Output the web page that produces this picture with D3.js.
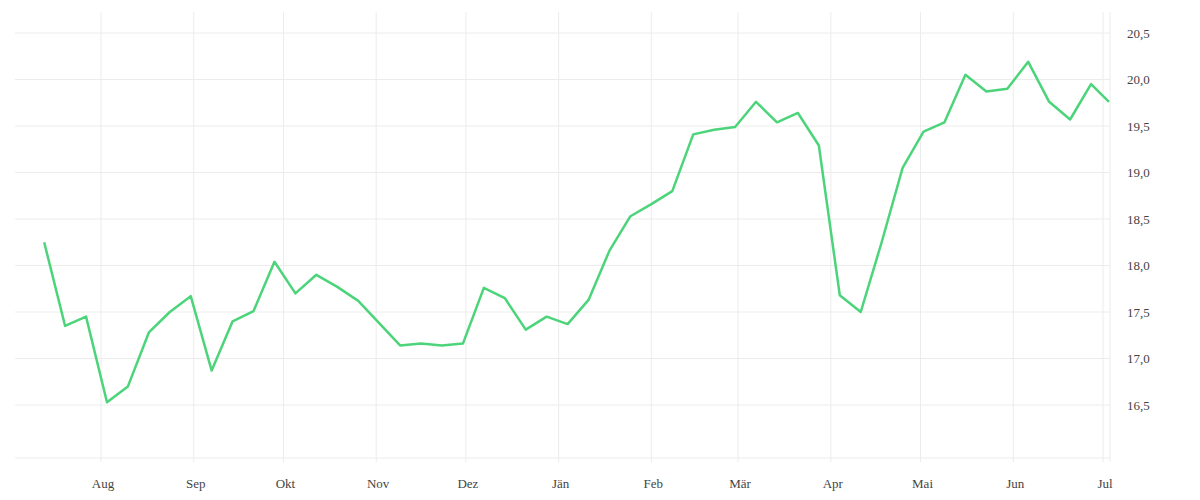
<!DOCTYPE html>
<html>
<head>
<meta charset="utf-8">
<script src="https://cdn.jsdelivr.net/npm/d3@7"></script>
<style>
  body { margin: 0; background: #fff; }
  text { font-family: "Liberation Serif", "DejaVu Serif", serif; font-size: 13px; fill: #444; }
</style>
</head>
<body>
<svg id="chart" width="1200" height="500"></svg>
<script>
// weekly values
const dates = [
  '2023-07-13','2023-07-20','2023-07-27','2023-08-03','2023-08-10','2023-08-17','2023-08-24','2023-08-31',
  '2023-09-07','2023-09-14','2023-09-21','2023-09-28','2023-10-05','2023-10-12','2023-10-19','2023-10-26',
  '2023-11-02','2023-11-09','2023-11-16','2023-11-23','2023-11-30','2023-12-07','2023-12-14','2023-12-21',
  '2023-12-28','2024-01-04','2024-01-11','2024-01-18','2024-01-25','2024-02-01','2024-02-08','2024-02-15',
  '2024-02-22','2024-02-29','2024-03-07','2024-03-14','2024-03-21','2024-03-28','2024-04-04','2024-04-11',
  '2024-04-18','2024-04-25','2024-05-02','2024-05-09','2024-05-16','2024-05-23','2024-05-30','2024-06-06',
  '2024-06-13','2024-06-20','2024-06-27','2024-07-03'
];
const values = [
  18.25, 17.35, 17.45, 16.53, 16.70, 17.28, 17.50, 17.67,
  16.87, 17.40, 17.51, 18.04, 17.70, 17.90, 17.77, 17.62,
  17.38, 17.14, 17.16, 17.14, 17.16, 17.76, 17.65, 17.31,
  17.45, 17.37, 17.63, 18.16, 18.53, 18.66, 18.80, 19.41,
  19.46, 19.49, 19.76, 19.54, 19.64, 19.29, 17.68, 17.50,
  18.25, 19.05, 19.44, 19.54, 20.05, 19.87, 19.90, 20.19,
  19.76, 19.57, 19.95, 19.76
];
const monthLabels = ['Aug','Sep','Okt','Nov','Dez','Jän','Feb','Mär','Apr','Mai','Jun','Jul'];
const monthTicks = ['2023-08-01','2023-09-01','2023-10-01','2023-11-01','2023-12-01','2024-01-01',
  '2024-02-01','2024-03-01','2024-04-01','2024-05-01','2024-06-01','2024-07-01'];
const yTicks = [16.5, 17.0, 17.5, 18.0, 18.5, 19.0, 19.5, 20.0, 20.5];

const parse = d3.timeParse('%Y-%m-%d');
const data = dates.map((d, i) => ({ date: parse(d), value: values[i] }));
const tickDates = monthTicks.map(parse);

const svg = d3.select('#chart');
const plotLeft = 15, plotRight = 1110, plotTop = 12, plotBottom = 462;

const x = d3.scaleTime()
  .domain([parse('2023-08-01'), parse('2024-07-01')])
  .range([101, 1103]);
const y = d3.scaleLinear().domain([16.5, 20.5]).range([405, 33]);

// grid
svg.append('g').selectAll('line').data(yTicks.concat([15.93])).join('line')
  .attr('x1', plotLeft).attr('x2', plotRight)
  .attr('y1', d => y(d)).attr('y2', d => y(d))
  .attr('stroke', '#ececec');
svg.append('g').selectAll('line').data(tickDates).join('line')
  .attr('x1', d => x(d)).attr('x2', d => x(d))
  .attr('y1', plotTop).attr('y2', plotBottom)
  .attr('stroke', '#ececec');
svg.append('line').attr('x1', plotRight).attr('x2', plotRight)
  .attr('y1', plotTop).attr('y2', plotBottom).attr('stroke', '#ececec');

// axis labels
const fmt = d3.format('.1f');
svg.append('g').selectAll('text').data(yTicks).join('text')
  .attr('x', 1127).attr('y', d => y(d)).attr('dy', '0.35em')
  .text(d => fmt(d).replace('.', ','));
svg.append('g').selectAll('text').data(tickDates).join('text')
  .attr('x', d => x(d) + 2).attr('y', 488).attr('text-anchor', 'middle')
  .text((d, i) => monthLabels[i]);

// line
const line = d3.line().x(d => x(d.date)).y(d => y(d.value));
svg.append('path').datum(data)
  .attr('d', line)
  .attr('fill', 'none')
  .attr('stroke', '#4cd47a')
  .attr('stroke-width', 2.5)
  .attr('stroke-linejoin', 'round');
</script>
</body>
</html>
